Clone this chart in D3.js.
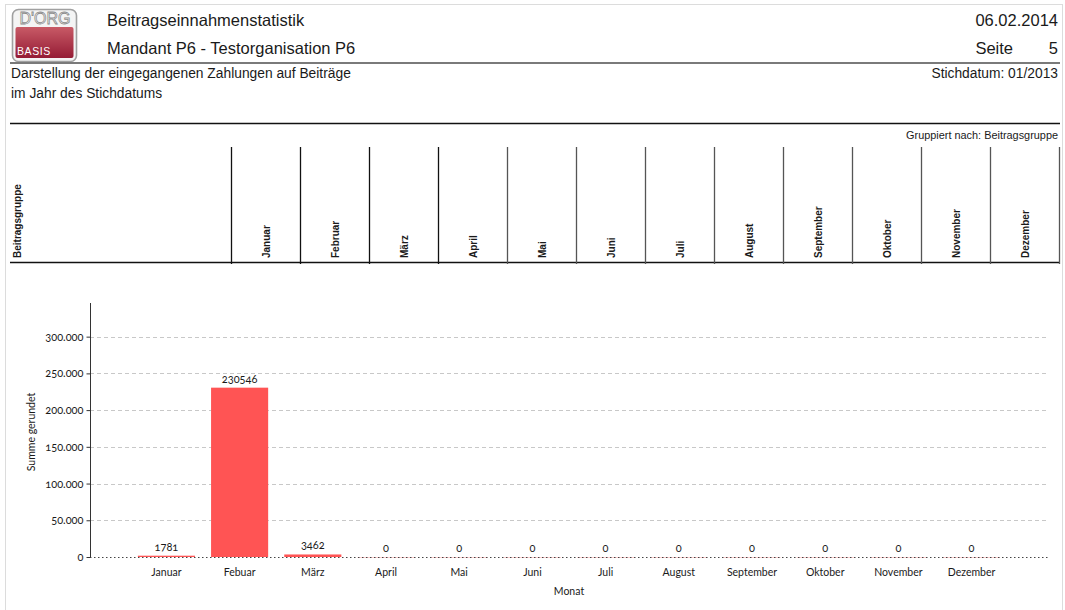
<!DOCTYPE html>
<html><head><meta charset="utf-8">
<script src="https://cdn.jsdelivr.net/npm/d3@7"></script>
<style>
html,body{margin:0;padding:0;background:#fff;}
svg{display:block;}
.hdr{font-family:"Liberation Sans",Arial,sans-serif;fill:#1a1a1a;}
.ch{font-family:Lato,"Open Sans",sans-serif;fill:#1a1a1a;font-variant-numeric:oldstyle-nums;}
</style></head>
<body>
<svg id="c" width="1065" height="610"></svg>
<script>
// ---- data ----
const chartMonths = ["Januar","Febuar","März","April","Mai","Juni","Juli","August","September","Oktober","November","Dezember"];
const chartValues = [1781, 230546, 3462, 0, 0, 0, 0, 0, 0, 0, 0, 0];
const headerMonths = ["Januar","Februar","März","April","Mai","Juni","Juli","August","September","Oktober","November","Dezember"];
const yTicks = [0, 50000, 100000, 150000, 200000, 250000, 300000];
const titleLines = ["Beitragseinnahmenstatistik","Mandant P6 - Testorganisation P6"];
const rightLines = ["06.02.2014","Seite","5"];
const subLines = ["Darstellung der eingegangenen Zahlungen auf Beiträge","im Jahr des Stichdatums"];
const stichdatum = "Stichdatum: 01/2013";
const gruppiert = "Gruppiert nach: Beitragsgruppe";
const rowHeader = "Beitragsgruppe";
const yLabel = "Summe gerundet";
const xLabel = "Monat";

const svg = d3.select("#c");
const de = d3.formatLocale({decimal:",", thousands:".", grouping:[3], currency:["","€"]});
const fmt = de.format(",d");

// page border
svg.append("rect").attr("x",5.5).attr("y",4.5).attr("width",1057).attr("height",620)
  .attr("fill","#fff").attr("stroke","#dcdcdc").attr("stroke-width",1);

// logo
const defs = svg.append("defs");
const g1 = defs.append("linearGradient").attr("id","lg").attr("x1",0).attr("y1",0).attr("x2",0).attr("y2",1);
g1.append("stop").attr("offset","0%").attr("stop-color","#c85a66");
g1.append("stop").attr("offset","100%").attr("stop-color","#951c35");
const logo = svg.append("g");
logo.append("rect").attr("x",12.5).attr("y",9.5).attr("width",64).attr("height",52).attr("rx",6)
  .attr("fill","#f4f4f4").attr("stroke","#a0a0a0").attr("stroke-width",1.6);
logo.append("rect").attr("x",15.5).attr("y",27).attr("width",58).attr("height",31).attr("rx",2)
  .attr("fill","url(#lg)");
logo.append("text").attr("x",45).attr("y",24).attr("text-anchor","middle")
  .style("font-family","Liberation Sans, Arial").style("font-size","16px")
  .attr("fill","#fff").attr("stroke","#8c8c8c").attr("stroke-width",0.8).text("D'ORG");
logo.append("text").attr("x",17).attr("y",55)
  .style("font-family","Liberation Sans, Arial").style("font-size","10.5px").style("letter-spacing","0.6px")
  .attr("fill","#fff").text("BASIS");

// header texts
svg.append("text").attr("class","hdr").attr("x",107).attr("y",26).style("font-size","16.5px").text(titleLines[0]);
svg.append("text").attr("class","hdr").attr("x",107).attr("y",54).style("font-size","16.5px").text(titleLines[1]);
svg.append("text").attr("class","hdr").attr("x",1058).attr("y",26).attr("text-anchor","end").style("font-size","16.5px").text(rightLines[0]);
svg.append("text").attr("class","hdr").attr("x",1013).attr("y",54).attr("text-anchor","end").style("font-size","16.5px").text(rightLines[1]);
svg.append("text").attr("class","hdr").attr("x",1058).attr("y",54).attr("text-anchor","end").style("font-size","16.5px").text(rightLines[2]);
svg.append("line").attr("x1",10).attr("x2",1060).attr("y1",63).attr("y2",63).attr("stroke","#7a7a7a").attr("stroke-width",2);

svg.append("text").attr("class","hdr").attr("x",11).attr("y",78).style("font-size","13.8px").text(subLines[0]);
svg.append("text").attr("class","hdr").attr("x",11).attr("y",98).style("font-size","13.8px").text(subLines[1]);
svg.append("text").attr("class","hdr").attr("x",1058).attr("y",78).attr("text-anchor","end").style("font-size","13.8px").text(stichdatum);
svg.append("line").attr("x1",10).attr("x2",1060).attr("y1",123.5).attr("y2",123.5).attr("stroke","#111").attr("stroke-width",1.3);
svg.append("text").attr("class","hdr").attr("x",1058).attr("y",139).attr("text-anchor","end").style("font-size","10.9px").text(gruppiert);

// table header
const colX = d3.scaleBand().domain(headerMonths).range([231, 1059]);
const tTop = 147, tBot = 262;
svg.append("line").attr("x1",10).attr("x2",1060).attr("y1",tBot+0.5).attr("y2",tBot+0.5).attr("stroke","#111").attr("stroke-width",1.3);
const edges = headerMonths.map(m => colX(m)).concat([colX.range()[1]]);
svg.selectAll("line.col").data(edges).join("line").attr("class","col")
  .attr("x1",d=>Math.round(d)+0.5).attr("x2",d=>Math.round(d)+0.5).attr("y1",tTop).attr("y2",tBot+2)
  .attr("stroke",(d,i)=> i<4 ? "#111" : "#555").attr("stroke-width",1.3);
svg.selectAll("text.colh").data(headerMonths).join("text").attr("class","hdr colh")
  .attr("transform",d=>`translate(${colX(d)+colX.bandwidth()/2+4},258) rotate(-90)`)
  .style("font-size","10px").style("font-weight","bold").text(d=>d);
svg.append("text").attr("class","hdr").attr("transform","translate(21,258) rotate(-90)")
  .style("font-size","10px").style("font-weight","bold").text(rowHeader);

// chart
const x0 = 90, x1 = 1048, yTop = 303, yBot = 557;
const maxV = d3.max(chartValues) * 1.5;
const y = d3.scaleLinear().domain([0, maxV]).range([yBot, yTop]);
const x = d3.scaleBand().domain(chartMonths).range([x0, x1]).paddingInner(0.22).paddingOuter(0.654);

// grid
svg.append("g").selectAll("line").data(yTicks.filter(t=>t>0)).join("line")
  .attr("x1",x0).attr("x2",x1).attr("y1",d=>Math.round(y(d))+0.5).attr("y2",d=>Math.round(y(d))+0.5)
  .attr("stroke","#c8c8c8").attr("stroke-width",1).attr("stroke-dasharray","4,3");

// bars
svg.append("g").selectAll("rect").data(chartValues).join("rect")
  .attr("x",(d,i)=>x(chartMonths[i])).attr("width",x.bandwidth())
  .attr("y",d=>y(d)).attr("height",d=>Math.max(0.8, yBot - y(d)))
  .attr("fill","#ff5454").attr("fill-opacity",d=> d>0 ? 1 : 0.35);

// baseline dotted
svg.append("line").attr("x1",x0).attr("x2",x1).attr("y1",yBot+0.5).attr("y2",yBot+0.5)
  .attr("stroke","#444").attr("stroke-width",1).attr("stroke-dasharray","1.5,2.5");

// y axis
const yAxis = d3.axisLeft(y).tickValues(yTicks).tickFormat(fmt).tickSize(4).tickPadding(3);
const ga = svg.append("g").attr("transform",`translate(${x0+0.5},0)`).call(yAxis);
ga.select(".domain").attr("d",`M0,${yTop}V${yBot}`).attr("stroke","#333");
ga.selectAll(".tick line").attr("stroke","#333");
ga.selectAll("text").attr("class","ch").style("font-size","11px").attr("fill","#1a1a1a");

// x axis labels
const xAxis = d3.axisBottom(x).tickSize(0).tickPadding(10);
const gx = svg.append("g").attr("transform",`translate(0,${yBot+2})`).call(xAxis);
gx.select(".domain").remove();
gx.selectAll("text").attr("class","ch").style("font-size","10.5px").attr("fill","#1a1a1a");

// value labels
svg.append("g").selectAll("text").data(chartValues).join("text").attr("class","ch")
  .attr("x",(d,i)=>x(chartMonths[i])+x.bandwidth()/2).attr("y",d=>y(d)-5)
  .attr("text-anchor","middle").style("font-size","11px").text(d=>d);

// axis titles
svg.append("text").attr("class","ch").attr("transform",`translate(35,${(yTop+yBot)/2+2}) rotate(-90)`)
  .attr("text-anchor","middle").style("font-size","10.5px").text(yLabel);
svg.append("text").attr("class","ch").attr("x",(x0+x1)/2).attr("y",595)
  .attr("text-anchor","middle").style("font-size","10.5px").text(xLabel);
</script>
</body></html>
